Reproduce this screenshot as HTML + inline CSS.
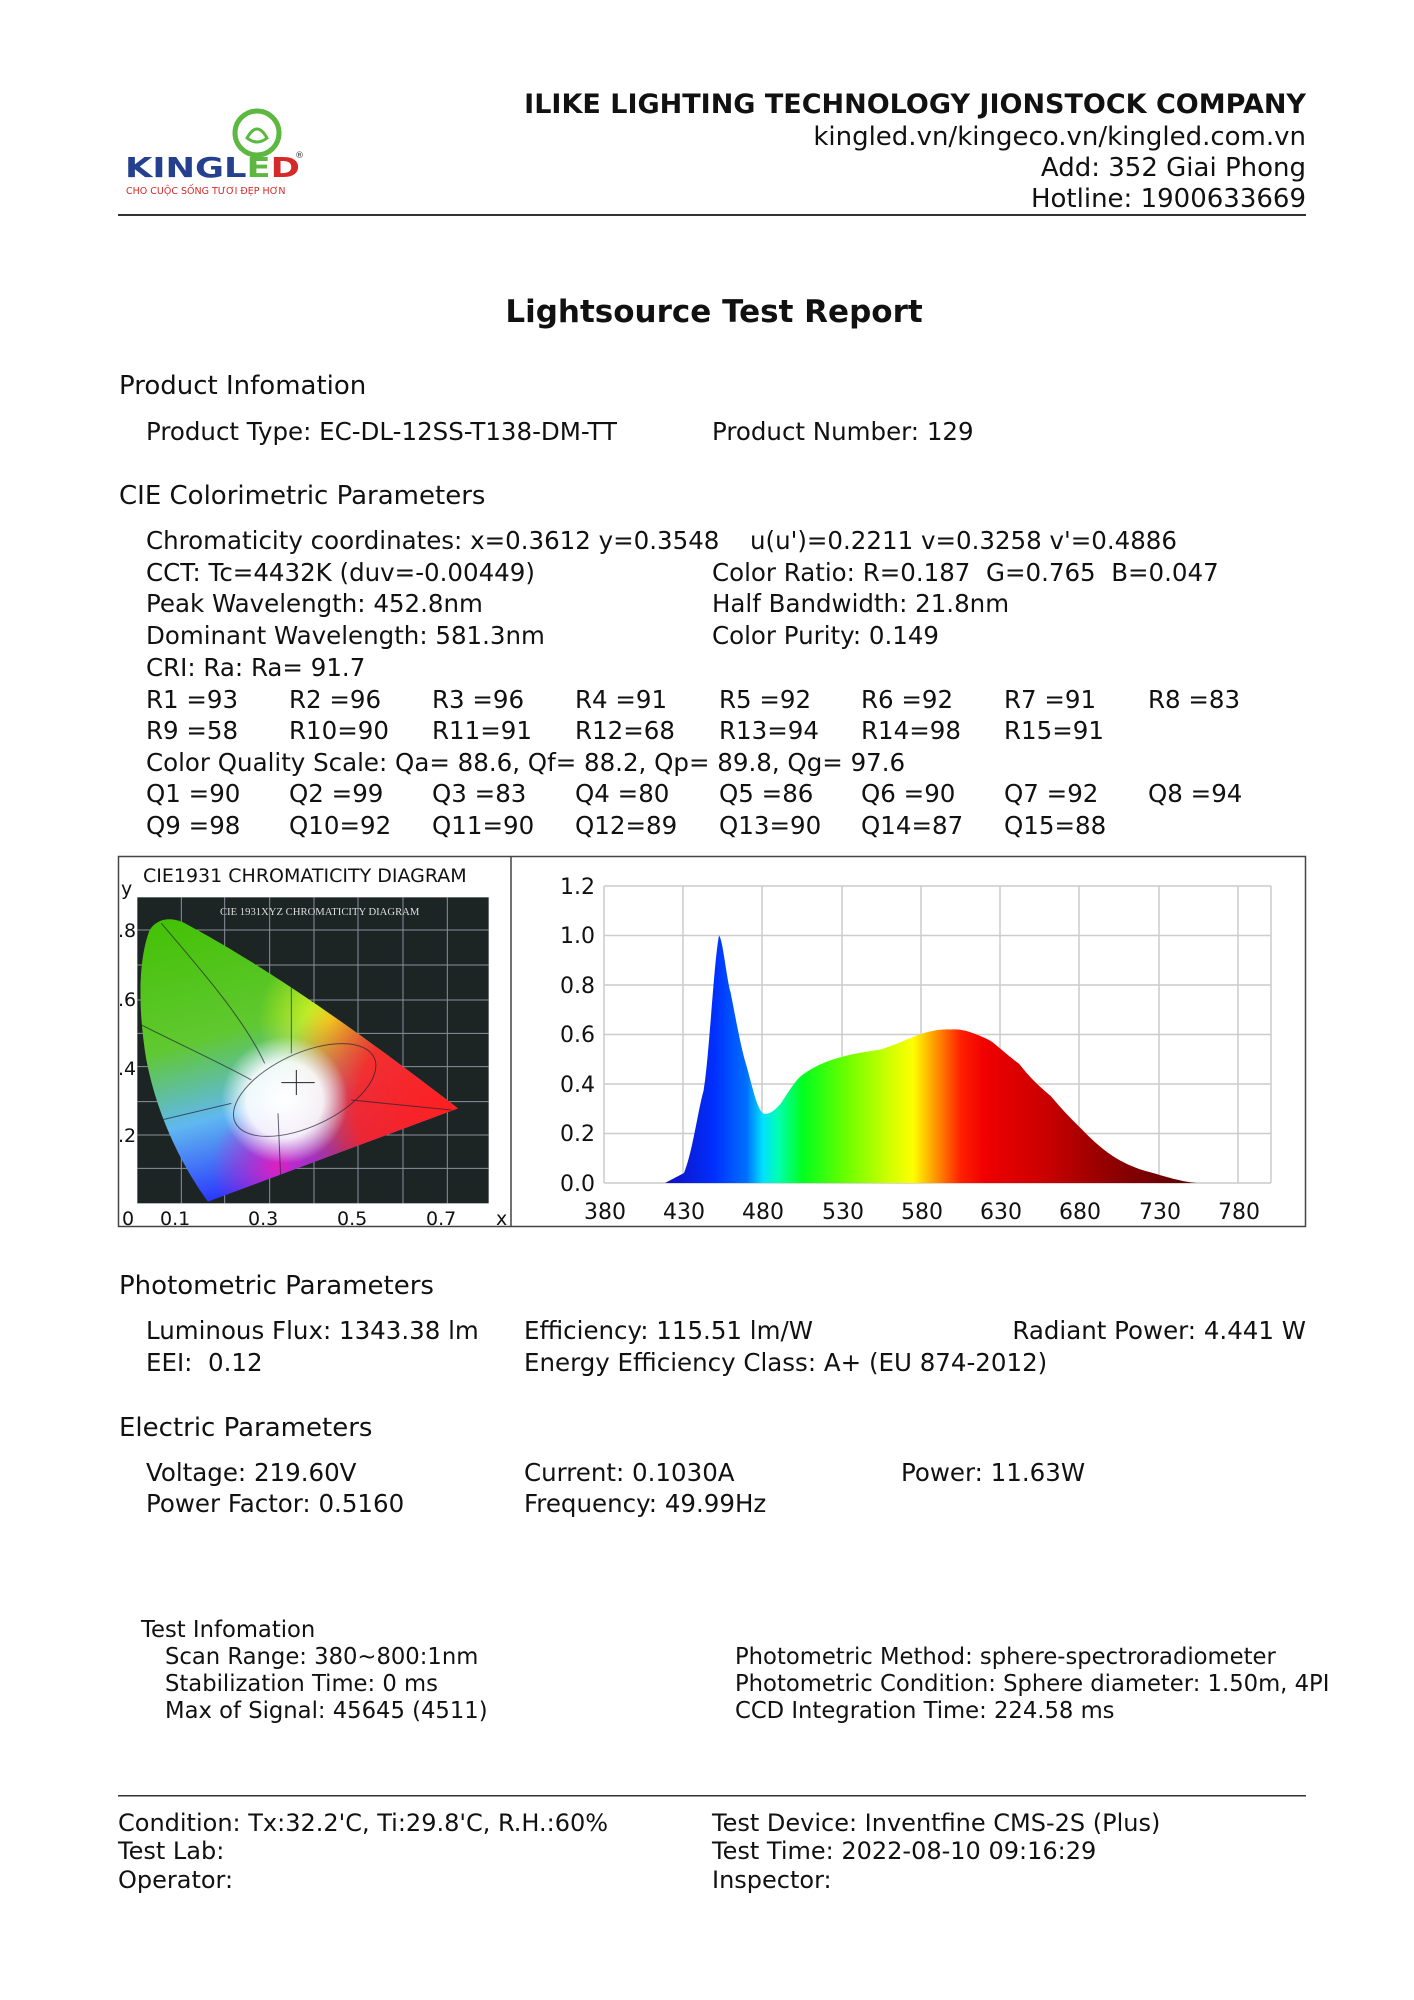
<!DOCTYPE html>
<html><head><meta charset="utf-8">
<style>
body{margin:0;background:#fff;}
#p{position:relative;width:1414px;height:2000px;overflow:hidden;font-family:"DejaVu Sans","Liberation Sans",sans-serif;color:#111;}
.t{position:absolute;white-space:nowrap;font-size:24.5px;line-height:30px;}
.h{font-size:26px;}
.s{font-size:22.7px;}
.r{text-align:right;}
</style></head><body><div id="p">

<svg style="position:absolute;left:0;top:0" width="1414" height="2000">
<defs>
<linearGradient id="spec" gradientUnits="userSpaceOnUse" x1="604" y1="0" x2="1238" y2="0">
<stop offset="0.1" stop-color="#1010c0"/>
<stop offset="0.175" stop-color="#0030ff"/>
<stop offset="0.225" stop-color="#0070ff"/>
<stop offset="0.25" stop-color="#00e0ff"/>
<stop offset="0.275" stop-color="#00ffb0"/>
<stop offset="0.3125" stop-color="#00ff20"/>
<stop offset="0.375" stop-color="#60ff00"/>
<stop offset="0.45" stop-color="#d0ff00"/>
<stop offset="0.4875" stop-color="#ffff00"/>
<stop offset="0.525" stop-color="#ff9000"/>
<stop offset="0.5625" stop-color="#ff2000"/>
<stop offset="0.6" stop-color="#f00000"/>
<stop offset="0.7" stop-color="#c80000"/>
<stop offset="0.8" stop-color="#900000"/>
<stop offset="0.95" stop-color="#500000"/>
</linearGradient>
<linearGradient id="cieg" x1="0" y1="0" x2="0.3" y2="1">
<stop offset="0" stop-color="#40c000"/>
<stop offset="0.45" stop-color="#60c830"/>
<stop offset="0.7" stop-color="#60b8f0"/>
<stop offset="1" stop-color="#2020ff"/>
</linearGradient>
<radialGradient id="cier" gradientUnits="userSpaceOnUse" cx="1000" cy="745" r="520">
<stop offset="0" stop-color="#ff2020"/><stop offset="0.55" stop-color="#ff2020" stop-opacity="0.9"/><stop offset="1" stop-color="#ff2020" stop-opacity="0"/>
</radialGradient>
<radialGradient id="ciey" gradientUnits="userSpaceOnUse" cx="640" cy="480" r="220">
<stop offset="0" stop-color="#f0ff20"/><stop offset="1" stop-color="#f0ff20" stop-opacity="0"/>
</radialGradient>
<radialGradient id="ciem" gradientUnits="userSpaceOnUse" cx="480" cy="920" r="200">
<stop offset="0" stop-color="#e020c0"/><stop offset="1" stop-color="#e020c0" stop-opacity="0"/>
</radialGradient>
<radialGradient id="ciew" gradientUnits="userSpaceOnUse" cx="500" cy="720" r="190">
<stop offset="0" stop-color="#fff"/><stop offset="0.6" stop-color="#fff" stop-opacity="0.9"/><stop offset="1" stop-color="#fff" stop-opacity="0"/>
</radialGradient>
<clipPath id="hs"><path d="M270,1025 C200,930 120,780 85,600 C60,450 60,300 95,210 C120,170 170,170 210,195 C350,270 600,420 1020,745 Z"/></clipPath>
</defs>

<rect x="118" y="214" width="1188" height="2" fill="#333"/>
<rect x="118.5" y="856.5" width="1187" height="370" fill="none" stroke="#444" stroke-width="1.5"/>
<line x1="511" y1="857" x2="511" y2="1227" stroke="#444" stroke-width="1.5"/>
<rect x="118" y="1795" width="1188" height="1.5" fill="#333"/>

<g transform="translate(118,860) scale(0.33333)">
<rect x="58" y="112" width="1054" height="918" fill="#1c2424"/>
<g stroke="#aab" stroke-width="3" opacity="0.8">
<line x1="190" y1="112" x2="190" y2="1030"/><line x1="320" y1="112" x2="320" y2="1030"/><line x1="455" y1="112" x2="455" y2="1030"/><line x1="588" y1="112" x2="588" y2="1030"/><line x1="720" y1="112" x2="720" y2="1030"/><line x1="855" y1="112" x2="855" y2="1030"/><line x1="988" y1="112" x2="988" y2="1030"/>
<line x1="58" y1="210" x2="1112" y2="210"/><line x1="58" y1="315" x2="1112" y2="315"/><line x1="58" y1="420" x2="1112" y2="420"/><line x1="58" y1="520" x2="1112" y2="520"/><line x1="58" y1="620" x2="1112" y2="620"/><line x1="58" y1="725" x2="1112" y2="725"/><line x1="58" y1="825" x2="1112" y2="825"/><line x1="58" y1="925" x2="1112" y2="925"/>
</g>
<text x="605" y="165" font-family="Liberation Serif,serif" font-size="32" fill="#ddd" text-anchor="middle">CIE 1931XYZ CHROMATICITY DIAGRAM</text>
<g clip-path="url(#hs)">
<rect x="50" y="150" width="1000" height="900" fill="url(#cieg)"/>
<rect x="50" y="150" width="1000" height="900" fill="url(#ciey)"/>
<rect x="50" y="150" width="1000" height="900" fill="url(#cier)"/>
<rect x="50" y="150" width="1000" height="900" fill="url(#ciem)"/>
<rect x="50" y="150" width="1000" height="900" fill="url(#ciew)"/>
<g stroke="#223" stroke-width="3" fill="none" opacity="0.7">
<ellipse cx="560" cy="690" rx="230" ry="110" transform="rotate(-25 560 690)"/>
<path d="M130,190 C250,330 380,480 440,610"/><path d="M60,490 C200,560 330,620 400,660"/>
<path d="M520,380 L520,580"/><path d="M130,780 L340,730"/><path d="M700,720 L1000,750"/><path d="M480,760 L490,1000"/>
</g>
<line x1="490" y1="668" x2="590" y2="668" stroke="#222" stroke-width="3"/><line x1="535" y1="630" x2="535" y2="705" stroke="#222" stroke-width="3"/>
</g>
</g>
<g font-family="DejaVu Sans,sans-serif" font-size="19" fill="#111">
<text x="143" y="882">CIE1931 CHROMATICITY DIAGRAM</text>
<text x="121" y="895">y</text>
<text x="118" y="937">.8</text><text x="118" y="1006">.6</text><text x="118" y="1075">.4</text><text x="118" y="1142">.2</text>
<text x="122" y="1225">0</text><text x="160" y="1225">0.1</text><text x="248" y="1225">0.3</text><text x="337" y="1225">0.5</text><text x="426" y="1225">0.7</text><text x="496" y="1225">x</text>
</g>

<g stroke="#ccc" stroke-width="1.5">
<line x1="604" y1="886" x2="1271" y2="886"/><line x1="604" y1="935.5" x2="1271" y2="935.5"/><line x1="604" y1="985" x2="1271" y2="985"/><line x1="604" y1="1034.5" x2="1271" y2="1034.5"/><line x1="604" y1="1084" x2="1271" y2="1084"/><line x1="604" y1="1133.5" x2="1271" y2="1133.5"/><line x1="604" y1="1183" x2="1271" y2="1183"/>
<line x1="604" y1="886" x2="604" y2="1183"/><line x1="683" y1="886" x2="683" y2="1183"/><line x1="762" y1="886" x2="762" y2="1183"/><line x1="842" y1="886" x2="842" y2="1183"/><line x1="921" y1="886" x2="921" y2="1183"/><line x1="1000" y1="886" x2="1000" y2="1183"/><line x1="1079" y1="886" x2="1079" y2="1183"/><line x1="1159" y1="886" x2="1159" y2="1183"/><line x1="1238" y1="886" x2="1238" y2="1183"/><line x1="1271" y1="886" x2="1271" y2="1183"/>
</g>
<path fill="url(#spec)" d="M665,1183 L684,1173 C693,1150 698,1110 703.5,1091 C709,1060 714,960 719,935.5 C723,940 726,975 730.5,992 C736,1020 741,1048 746,1064 C752,1085 757,1110 763.6,1113.7 C770,1115 775,1110 780.6,1103.8 C790,1090 795,1080 803.7,1074 C815,1066 825,1062 834.6,1059 C850,1054 865,1052 880.9,1049.4 C895,1045 905,1040 919.4,1034.5 C930,1031 940,1029 950.3,1029.5 C958,1029 964,1030 969.7,1032 C978,1035 986,1038 992.3,1042 C1002,1050 1010,1057 1019.3,1064 C1030,1078 1040,1087 1050.7,1096 C1060,1107 1070,1118 1081,1128.5 C1092,1140 1101,1148 1112.3,1155.8 C1125,1164 1137,1169 1150.8,1172.4 C1170,1178 1183,1182 1197,1183 Z"/>
<g font-family="DejaVu Sans,sans-serif" font-size="22" fill="#111">
<g text-anchor="end"><text x="595" y="894">1.2</text><text x="595" y="943">1.0</text><text x="595" y="993">0.8</text><text x="595" y="1042">0.6</text><text x="595" y="1092">0.4</text><text x="595" y="1141">0.2</text><text x="595" y="1191">0.0</text></g>
<g text-anchor="middle"><text x="605" y="1219">380</text><text x="684" y="1219">430</text><text x="763" y="1219">480</text><text x="843" y="1219">530</text><text x="922" y="1219">580</text><text x="1001" y="1219">630</text><text x="1080" y="1219">680</text><text x="1160" y="1219">730</text><text x="1239" y="1219">780</text></g>
</g>

<circle cx="257" cy="133" r="22" fill="none" stroke="#5cb840" stroke-width="5"/>
<path d="M247,138 q10,-18 20,0 q-10,8 -20,0z" fill="none" stroke="#5cb840" stroke-width="3"/>
<text x="125" y="177" font-family="DejaVu Sans,sans-serif" font-weight="bold" font-size="28" fill="#24408e" textLength="175" lengthAdjust="spacingAndGlyphs">KINGL<tspan fill="#5cb840">E</tspan><tspan fill="#d42a2a">D</tspan></text>
<text x="295" y="158" font-size="9" fill="#333">®</text>
<text x="126" y="194" font-family="DejaVu Sans,sans-serif" font-size="9.5" fill="#d42a2a">CHO CUỘC SỐNG TƯƠI ĐẸP HƠN</text>
</svg>

<div class="t r" style="right:108px;top:90px;font-weight:bold;font-size:27px;">ILIKE LIGHTING TECHNOLOGY JIONSTOCK COMPANY</div>
<div class="t r" style="right:108px;top:122px;font-size:26px;">kingled.vn/kingeco.vn/kingled.com.vn</div>
<div class="t r" style="right:108px;top:153px;font-size:26px;">Add: 352 Giai Phong</div>
<div class="t r" style="right:108px;top:184px;font-size:26px;">Hotline: 1900633669</div>

<div class="t" style="left:0;width:1428px;text-align:center;top:294px;font-weight:bold;font-size:31px;line-height:36px;">Lightsource Test Report</div>

<div class="t h" style="left:119px;top:371px;">Product Infomation</div>
<div class="t" style="left:146px;top:417px;">Product Type: EC-DL-12SS-T138-DM-TT</div>
<div class="t" style="left:712px;top:417px;">Product Number: 129</div>

<div class="t h" style="left:119px;top:481px;">CIE Colorimetric Parameters</div>
<div class="t" style="left:146px;top:526px;">Chromaticity coordinates: x=0.3612 y=0.3548</div>
<div class="t" style="left:750px;top:526px;">u(u')=0.2211 v=0.3258 v'=0.4886</div>
<div class="t" style="left:146px;top:558px;">CCT: Tc=4432K (duv=-0.00449)</div>
<div class="t" style="left:712px;top:558px;">Color Ratio: R=0.187&nbsp; G=0.765&nbsp; B=0.047</div>
<div class="t" style="left:146px;top:589px;">Peak Wavelength: 452.8nm</div>
<div class="t" style="left:712px;top:589px;">Half Bandwidth: 21.8nm</div>
<div class="t" style="left:146px;top:621px;">Dominant Wavelength: 581.3nm</div>
<div class="t" style="left:712px;top:621px;">Color Purity: 0.149</div>
<div class="t" style="left:146px;top:653px;">CRI: Ra: Ra= 91.7</div>

<div class="t" style="left:146px;top:685px;">R1 =93</div><div class="t" style="left:289px;top:685px;">R2 =96</div><div class="t" style="left:432px;top:685px;">R3 =96</div><div class="t" style="left:575px;top:685px;">R4 =91</div><div class="t" style="left:719px;top:685px;">R5 =92</div><div class="t" style="left:861px;top:685px;">R6 =92</div><div class="t" style="left:1004px;top:685px;">R7 =91</div><div class="t" style="left:1148px;top:685px;">R8 =83</div>
<div class="t" style="left:146px;top:716px;">R9 =58</div><div class="t" style="left:289px;top:716px;">R10=90</div><div class="t" style="left:432px;top:716px;">R11=91</div><div class="t" style="left:575px;top:716px;">R12=68</div><div class="t" style="left:719px;top:716px;">R13=94</div><div class="t" style="left:861px;top:716px;">R14=98</div><div class="t" style="left:1004px;top:716px;">R15=91</div>
<div class="t" style="left:146px;top:748px;">Color Quality Scale: Qa= 88.6, Qf= 88.2, Qp= 89.8, Qg= 97.6</div>
<div class="t" style="left:146px;top:779px;">Q1 =90</div><div class="t" style="left:289px;top:779px;">Q2 =99</div><div class="t" style="left:432px;top:779px;">Q3 =83</div><div class="t" style="left:575px;top:779px;">Q4 =80</div><div class="t" style="left:719px;top:779px;">Q5 =86</div><div class="t" style="left:861px;top:779px;">Q6 =90</div><div class="t" style="left:1004px;top:779px;">Q7 =92</div><div class="t" style="left:1148px;top:779px;">Q8 =94</div>
<div class="t" style="left:146px;top:811px;">Q9 =98</div><div class="t" style="left:289px;top:811px;">Q10=92</div><div class="t" style="left:432px;top:811px;">Q11=90</div><div class="t" style="left:575px;top:811px;">Q12=89</div><div class="t" style="left:719px;top:811px;">Q13=90</div><div class="t" style="left:861px;top:811px;">Q14=87</div><div class="t" style="left:1004px;top:811px;">Q15=88</div>

<div class="t h" style="left:119px;top:1271px;">Photometric Parameters</div>
<div class="t" style="left:146px;top:1316px;">Luminous Flux: 1343.38 lm</div>
<div class="t" style="left:524px;top:1316px;">Efficiency: 115.51 lm/W</div>
<div class="t r" style="right:108px;top:1316px;">Radiant Power: 4.441 W</div>
<div class="t" style="left:146px;top:1348px;">EEI:&nbsp; 0.12</div>
<div class="t" style="left:524px;top:1348px;">Energy Efficiency Class: A+ (EU 874-2012)</div>

<div class="t h" style="left:119px;top:1413px;">Electric Parameters</div>
<div class="t" style="left:146px;top:1458px;">Voltage: 219.60V</div>
<div class="t" style="left:524px;top:1458px;">Current: 0.1030A</div>
<div class="t" style="left:901px;top:1458px;">Power: 11.63W</div>
<div class="t" style="left:146px;top:1489px;">Power Factor: 0.5160</div>
<div class="t" style="left:524px;top:1489px;">Frequency: 49.99Hz</div>

<div class="t s" style="left:141px;top:1615px;">Test Infomation</div>
<div class="t s" style="left:165px;top:1642px;">Scan Range: 380~800:1nm</div>
<div class="t s" style="left:165px;top:1669px;">Stabilization Time: 0 ms</div>
<div class="t s" style="left:165px;top:1696px;">Max of Signal: 45645 (4511)</div>
<div class="t s" style="left:735px;top:1642px;">Photometric Method: sphere-spectroradiometer</div>
<div class="t s" style="left:735px;top:1669px;">Photometric Condition: Sphere diameter: 1.50m, 4PI</div>
<div class="t s" style="left:735px;top:1696px;">CCD Integration Time: 224.58 ms</div>

<div class="t" style="left:118px;top:1808px;font-size:24px;">Condition: Tx:32.2'C, Ti:29.8'C, R.H.:60%</div>
<div class="t" style="left:118px;top:1836px;font-size:24px;">Test Lab:</div>
<div class="t" style="left:118px;top:1865px;font-size:24px;">Operator:</div>
<div class="t" style="left:712px;top:1808px;font-size:24px;">Test Device: Inventfine CMS-2S (Plus)</div>
<div class="t" style="left:712px;top:1836px;font-size:24px;">Test Time: 2022-08-10 09:16:29</div>
<div class="t" style="left:712px;top:1865px;font-size:24px;">Inspector:</div>
</div></body></html>
